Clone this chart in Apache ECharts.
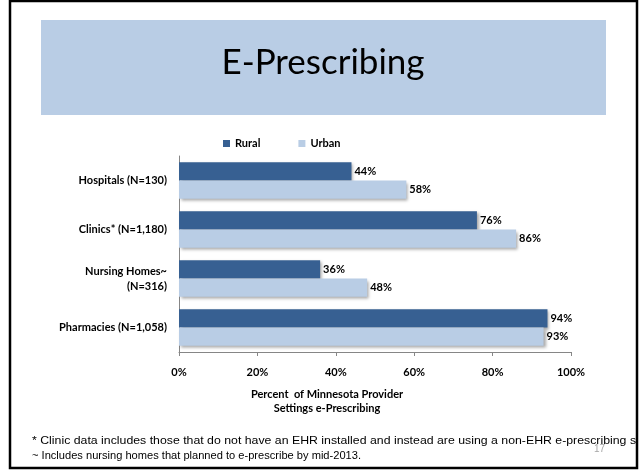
<!DOCTYPE html>
<html><head><meta charset="utf-8">
<script src="https://cdn.jsdelivr.net/npm/echarts@6/dist/echarts.min.js"></script>
<style>html,body{margin:0;padding:0;background:#fff}#c{width:641px;height:471px}</style>
</head><body><div id="c"></div>
<script>
const titleText = 'E-Prescribing';
const categories = ['Hospitals (N=130)', 'Clinics* (N=1,180)', 'Nursing Homes~\n(N=316)', 'Pharmacies (N=1,058)'];
const seriesNames = ['Rural', 'Urban'];
const ruralValues = [44, 76, 36, 94];
const urbanValues = [58, 86, 48, 93];
const xTicks = [0, 20, 40, 60, 80, 100];
const xAxisTitle = 'Percent  of Minnesota Provider\nSettings e-Prescribing';
const footnotes = [
  '* Clinic data includes those that do not have an EHR installed and instead are using a non-EHR e-prescribing system.',
  '~ Includes nursing homes that planned to e-prescribe by mid-2013.'
];
const pageNumber = '17';

const chart = echarts.init(document.getElementById('c'), null, {renderer: 'canvas'});
const lblFont = 'Lato, "Open Sans", sans-serif';
const shadow = {shadowColor: 'rgba(0,0,0,0.35)', shadowBlur: 3, shadowOffsetX: 2, shadowOffsetY: 2};
const lbl = {fontFamily: lblFont, fontWeight: 'bold', fontSize: 11, color: '#000'};
chart.setOption({
  animation: false,
  backgroundColor: '#fff',
  grid: {left: 179, right: 70, top: 156, bottom: 119, containLabel: false},
  legend: {
    data: seriesNames, top: 133, left: 218, itemWidth: 7, itemHeight: 7, itemGap: 38,
    icon: 'rect',
    textStyle: Object.assign({}, lbl, {fontSize: 11})
  },
  xAxis: {
    type: 'value', min: 0, max: 100, interval: 20,
    axisLine: {show: true, lineStyle: {color: '#868686'}},
    axisTick: {show: true, length: 4, lineStyle: {color: '#868686'}},
    splitLine: {show: false},
    axisLabel: Object.assign({formatter: v => xTicks.includes(v) ? v + '%' : '', margin: 15}, lbl),
    name: xAxisTitle, nameLocation: 'middle', nameGap: 35,
    nameTextStyle: Object.assign({lineHeight: 14, padding: [0, 96, 0, 0]}, lbl)
  },
  yAxis: {
    type: 'category', data: categories, inverse: true,
    axisLine: {show: true, lineStyle: {color: '#868686'}},
    axisTick: {show: false},
    axisLabel: Object.assign({margin: 12, lineHeight: 15, align: 'right'}, lbl)
  },
  series: [
    {name: seriesNames[0], type: 'bar', data: ruralValues, barGap: '0%', barCategoryGap: '26%',
     itemStyle: Object.assign({color: '#376092'}, shadow),
     label: Object.assign({show: true, position: 'right', distance: 3, formatter: p => p.value + '%'}, lbl)},
    {name: seriesNames[1], type: 'bar', data: urbanValues, barGap: '0%', barCategoryGap: '26%',
     itemStyle: Object.assign({color: '#b9cde5'}, shadow),
     label: Object.assign({show: true, position: 'right', distance: 3, formatter: p => p.value + '%'}, lbl)}
  ],
  graphic: [
    {type: 'rect', shape: {x: 41, y: 20, width: 565, height: 95}, style: {fill: '#b9cde5'}, z: 0},
    {type: 'text', x: 323, y: 63, style: {text: titleText, font: '35px Lato, "Open Sans", sans-serif', fill: '#000', textAlign: 'center', textVerticalAlign: 'middle'}, z: 1},
    {type: 'text', x: 32, y: 441, scaleX: 1.1, style: {text: footnotes[0], font: '11.2px "Liberation Sans", Arial, sans-serif', fill: '#000', textVerticalAlign: 'middle'}, z: 1},
    {type: 'text', x: 32, y: 456, style: {text: footnotes[1], font: '11.1px "Liberation Sans", Arial, sans-serif', fill: '#000', textVerticalAlign: 'middle'}, z: 1},
    {type: 'text', x: 594, y: 449, style: {text: pageNumber, font: '10px "Liberation Sans", Arial, sans-serif', fill: '#a6a6a6', textVerticalAlign: 'middle'}, z: 1},
    {type: 'rect', shape: {x: 638, y: 0, width: 3, height: 471}, style: {fill: '#fff'}, z: 5},
    {type: 'rect', shape: {x: 10, y: 1, width: 627, height: 467}, style: {fill: 'none', stroke: '#000', lineWidth: 2.5}, z: 6}
  ]
});
</script></body></html>
